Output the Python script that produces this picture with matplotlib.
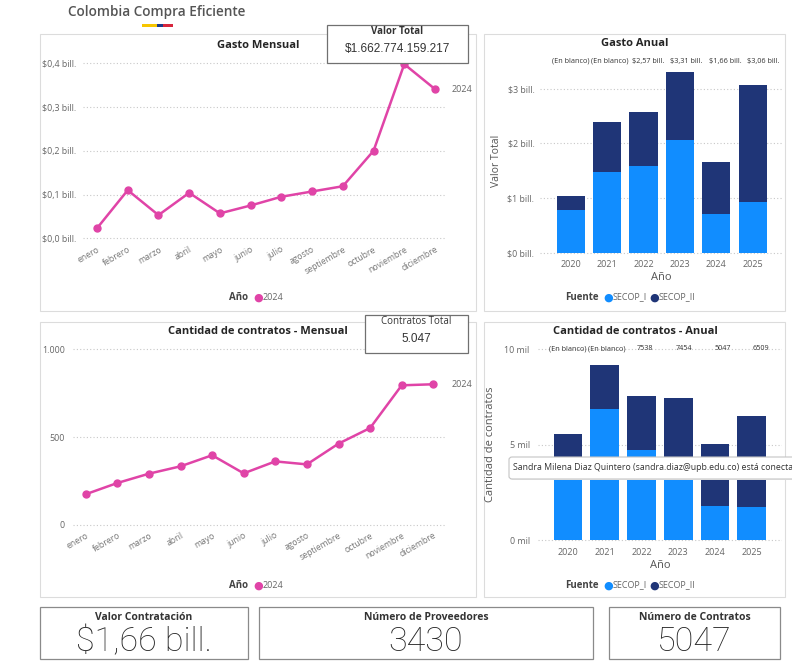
import matplotlib
matplotlib.use("Agg")
import matplotlib.pyplot as plt
from matplotlib.patches import Rectangle, FancyBboxPatch
from matplotlib.transforms import blended_transform_factory
import numpy as np

# Canvas size in pixels (dashboard screenshot)
W, H = 792, 662

# ---- data ------------------------------------------------------------------
meses = ["enero", "febrero", "marzo", "abril", "mayo", "junio", "julio",
         "agosto", "septiembre", "octubre", "noviembre", "diciembre"]
gasto_mensual = [0.023, 0.110, 0.053, 0.104, 0.057, 0.075, 0.095, 0.107,
                 0.119, 0.200, 0.398, 0.341]  # billones de pesos, 2024
contratos_mensual = [175, 239, 292, 334, 397, 294, 362, 345, 463, 552, 795,
                     801]

anios = ["2020", "2021", "2022", "2023", "2024", "2025"]
gasto_secop_i = [0.78, 1.47, 1.59, 2.06, 0.70, 0.93]
gasto_secop_ii = [0.26, 0.92, 0.98, 1.25, 0.96, 2.13]
gasto_total_lbl = ["(En blanco)", "(En blanco)", "$2,57 bill.", "$3,31 bill.",
                   "$1,66 bill.", "$3,06 bill."]
contratos_secop_i = [4000, 6850, 4720, 4000, 1770, 1730]
contratos_secop_ii = [1570, 2330, 2818, 3454, 3277, 4779]
contratos_total_lbl = ["(En blanco)", "(En blanco)", "7538", "7454", "5047",
                       "6509"]

kpi_titulos = ["Valor Contratación", "Número de Proveedores",
               "Número de Contratos"]
kpi_valores = ["$1,66 bill.", "3430", "5047"]

# ---- styles ----------------------------------------------------------------
PINK = "#e044a7"
BLUE = "#118dff"
NAVY = "#1f3577"
GRID = "#c8c8c8"
TICK = "#666666"
FONT = ["Open Sans", "DejaVu Sans"]

plt.rcParams["font.family"] = FONT

fig = plt.figure(figsize=(W / 100, H / 100), dpi=100)
fig.patch.set_facecolor("white")
renderer = fig.canvas.get_renderer()


def fig_rect(x0, y0, x1, y1):
    """Pixel box (top-left origin) -> figure fraction rect"""
    return [x0 / W, 1 - y1 / H, (x1 - x0) / W, (y1 - y0) / H]


def axis_lims(p_a, v_a, p_b, v_b, q0, q1):
    """Values at pixels q0, q1 given two pixel/value anchors"""
    k = (v_b - v_a) / (p_b - p_a)
    return v_a + (q0 - p_a) * k, v_a + (q1 - p_a) * k


def ftext(x, y, s, **kw):
    return fig.text(x / W, 1 - y / H, s, **kw)


def box(x0, y0, x1, y1, ec, lw=0.8, zorder=-1):
    fig.add_artist(Rectangle((x0 / W, 1 - y1 / H), (x1 - x0) / W,
                             (y1 - y0) / H, transform=fig.transFigure,
                             facecolor="white", edgecolor=ec, lw=lw,
                             zorder=zorder))


def text_width(t):
    return t.get_window_extent(renderer=renderer).width


def legend_row(x, y, title, items):
    # Power BI style legend: bold title then coloured dots
    t = ftext(x, y, title, size=7, weight="bold", color="#444444",
              va="center")
    cx = x + text_width(t) + 7
    for lab, col in items:
        ftext(cx + 3, y + 0.5, "\u25cf", size=8, color=col, va="center",
              ha="center", family="DejaVu Sans")
        lt = ftext(cx + 7, y, lab, size=6.5, color="#666666", va="center")
        cx += 7 + text_width(lt) + 5


def style_axes(ax):
    for s in ax.spines.values():
        s.set_visible(False)
    ax.patch.set_alpha(0)
    ax.tick_params(length=0, colors=TICK, labelsize=6.4)
    ax.grid(axis="y", ls=(0, (1, 2)), color=GRID, lw=0.8)
    ax.set_axisbelow(True)


def month_axis(ax):
    ax.set_xticks(np.arange(len(meses)))
    ax.set_xticklabels(meses, rotation=30, ha="right",
                       rotation_mode="anchor", size=6.2, color="#777777")
    ax.tick_params(axis="x", pad=2)


# ---- header ----------------------------------------------------------------
ftext(68, 12, "Colombia Compra Eficiente", size=9.8, weight="semibold",
      color="#555555", va="center")
for x0, x1, col in [(142, 157, "#f7c600"), (157, 163, "#1d3a8a"),
                    (163, 173, "#d7263d")]:
    fig.add_artist(Rectangle((x0 / W, 1 - 26.5 / H), (x1 - x0) / W, 2.5 / H,
                             transform=fig.transFigure, color=col, lw=0))

# ---- panel frames ----------------------------------------------------------
box(40, 34, 476, 311, "#dcdcdc")
box(484, 34, 785, 311, "#dcdcdc")
box(40, 322, 476, 597, "#dcdcdc")
box(484, 322, 785, 597, "#dcdcdc")

xm = np.arange(len(meses))

# ---- Gasto Mensual ---------------------------------------------------------
ax1 = fig.add_axes(fig_rect(83, 55, 446, 242))
style_axes(ax1)
ax1.plot(xm, gasto_mensual, color=PINK, lw=1.8, marker="o", ms=5,
         clip_on=False, zorder=3)
ax1.set_xlim(*axis_lims(97, 0, 435, 11, 83, 446))
ax1.set_ylim(*axis_lims(238.3, 0, 63.3, 0.4, 242, 55))
yt = [0, 0.1, 0.2, 0.3, 0.4]
ax1.set_yticks(yt)
ax1.set_yticklabels([f"${v:.1f} bill.".replace(".", ",", 1) for v in yt])
ax1.tick_params(axis="y", pad=5)
month_axis(ax1)
ax1.text(1.015, gasto_mensual[-1], "2024", transform=blended_transform_factory(
    ax1.transAxes, ax1.transData), size=6.5, color="#666666", va="center")
ftext(258, 45, "Gasto Mensual", size=8, weight="bold", color="#252525",
      ha="center", va="center")
legend_row(229, 297, "Año", [("2024", PINK)])

# card Valor Total
box(327, 25, 468, 63, "#707070", lw=0.9, zorder=5)
ftext(397.5, 31, "Valor Total", size=7, weight="bold", color="#333333",
      ha="center", va="center", zorder=6)
ftext(397.5, 49, "$1.662.774.159.217", size=8.5, color="#333333",
      ha="center", va="center", family="Liberation Sans", zorder=6)

# ---- Cantidad de contratos - Mensual --------------------------------------
ax3 = fig.add_axes(fig_rect(73, 345, 446, 528))
style_axes(ax3)
ax3.plot(xm, contratos_mensual, color=PINK, lw=1.8, marker="o", ms=5,
         clip_on=False, zorder=3)
ax3.set_xlim(*axis_lims(85.7, 0, 433.3, 11, 73, 446))
ax3.set_ylim(*axis_lims(525, 0, 349.3, 1000, 528, 345))
ax3.set_yticks([0, 500, 1000])
ax3.set_yticklabels(["0", "500", "1.000"])
ax3.tick_params(axis="y", pad=6)
month_axis(ax3)
ax3.text(1.015, contratos_mensual[-1], "2024",
         transform=blended_transform_factory(ax3.transAxes, ax3.transData),
         size=6.5, color="#666666", va="center")
ftext(258, 332, "Cantidad de contratos - Mensual", size=8, weight="bold",
      color="#252525", ha="center", va="center")
legend_row(229, 585, "Año", [("2024", PINK)])

box(365, 315, 468, 353, "#707070", lw=0.9, zorder=5)
ftext(416.5, 321, "Contratos Total", size=7, color="#333333",
      ha="center", va="center", zorder=6)
ftext(416.5, 339, "5.047", size=8.5, color="#333333", ha="center",
      va="center", family="Liberation Sans", zorder=6)

# ---- Gasto Anual -----------------------------------------------------------
xa = np.arange(len(anios))
ax2 = fig.add_axes(fig_rect(540, 66, 783, 255))
style_axes(ax2)
ax2.bar(xa, gasto_secop_i, width=0.77, color=BLUE, zorder=2)
ax2.bar(xa, gasto_secop_ii, width=0.77, bottom=gasto_secop_i, color=NAVY,
        zorder=2)
ax2.set_xlim(*axis_lims(570.7, 0, 752.7, 5, 540, 783))
ax2.set_ylim(*axis_lims(252.7, 0, 88.7, 3, 255, 66))
ax2.set_yticks([0, 1, 2, 3])
ax2.set_yticklabels([f"${v} bill." for v in range(4)])
ax2.set_xticks(xa)
ax2.set_xticklabels(anios, size=6.5, color="#666666")
ax2.tick_params(axis="y", pad=4)
ax2.set_xlabel("Año", size=8, color="#555555", labelpad=2)
ax2.set_ylabel("Valor Total", size=7.5, color="#555555", labelpad=4)
tr2 = blended_transform_factory(ax2.transData, fig.transFigure)
for i, lab in enumerate(gasto_total_lbl):
    ax2.text(i + 0.06 * i, 1 - 61.5 / H, lab, transform=tr2, size=5.2,
             color="#333333", ha="center", va="center")
ftext(635, 44, "Gasto Anual", size=8, weight="bold", color="#252525",
      ha="center", va="center")
legend_row(565, 297, "Fuente", [("SECOP_I", BLUE), ("SECOP_II", NAVY)])

# ---- Cantidad de contratos - Anual ----------------------------------------
ax4 = fig.add_axes(fig_rect(538, 346, 782, 543))
style_axes(ax4)
ax4.bar(xa, contratos_secop_i, width=0.78, color=BLUE, zorder=2)
ax4.bar(xa, contratos_secop_ii, width=0.78, bottom=contratos_secop_i,
        color=NAVY, zorder=2)
ax4.set_xlim(*axis_lims(568, 0, 751.7, 5, 538, 782))
ax4.set_ylim(*axis_lims(540, 0, 349.3, 10000, 543, 346))
ax4.set_yticks([0, 5000, 10000])
ax4.set_yticklabels(["0 mil", "5 mil", "10 mil"])
ax4.set_xticks(xa)
ax4.set_xticklabels(anios, size=6.5, color="#666666")
ax4.tick_params(axis="y", pad=6)
ax4.set_xlabel("Año", size=8, color="#555555", labelpad=2)
ax4.set_ylabel("Cantidad de contratos", size=8, color="#555555",
               labelpad=6)
tr4 = blended_transform_factory(ax4.transData, fig.transFigure)
for i, lab in enumerate(contratos_total_lbl):
    ax4.text(i + 0.05 * i, 1 - 348.5 / H, lab, transform=tr4, size=5.2,
             color="#333333", ha="center", va="center")
ftext(635, 332, "Cantidad de contratos - Anual", size=8, weight="bold",
      color="#252525", ha="center", va="center")
legend_row(565, 585, "Fuente", [("SECOP_I", BLUE), ("SECOP_II", NAVY)])

# hover notification over the annual chart
fig.add_artist(FancyBboxPatch((510 / W, 1 - 480 / H), 300 / W, 22 / H,
                              boxstyle="round,pad=0,rounding_size=0.004",
                              transform=fig.transFigure, facecolor="#f0f0f0",
                              edgecolor="none", zorder=7.5))
fig.add_artist(FancyBboxPatch((509 / W, 1 - 479 / H), 300 / W, 22 / H,
                              boxstyle="round,pad=0,rounding_size=0.004",
                              transform=fig.transFigure, facecolor="white",
                              edgecolor="#c4c4c4", lw=0.8, zorder=8))
ftext(513, 467.5, "Sandra Milena Diaz Quintero (sandra.diaz@upb.edu.co) "
      "está conecta", size=6.3, color="#333333", va="center", zorder=9)

# ---- KPI cards -------------------------------------------------------------
kpi_boxes = [(40, 248), (259, 593), (609, 780)]
for (x0, x1), tit, val in zip(kpi_boxes, kpi_titulos, kpi_valores):
    box(x0, 607, x1, 659, "#8a8a8a", lw=0.9)
    xc = (x0 + x1) / 2
    ftext(xc, 617, tit, size=7.5, weight="bold", color="#333333",
          ha="center", va="center")
    ftext(xc, 642, val, size=24.5, weight="light", color="#262626",
          ha="center", va="center", family=["Roboto", "DejaVu Sans"])

fig.savefig("out.png", dpi=100, facecolor="white")
